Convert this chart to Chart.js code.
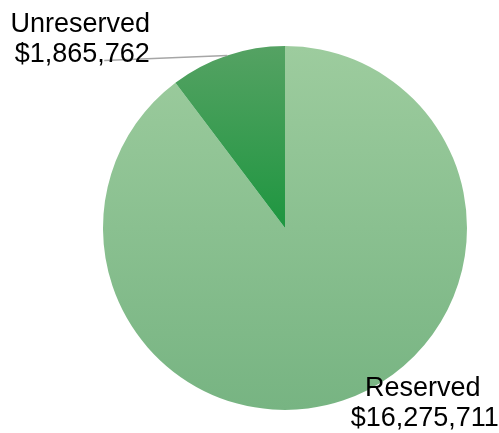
<!DOCTYPE html>
<html>
<head>
<meta charset="utf-8">
<script src="https://cdn.jsdelivr.net/npm/chart.js@4.4.0/dist/chart.umd.min.js"></script>
<style>
    html, body { margin: 0; padding: 0; background: #ffffff; }
    #wrap { width: 499px; height: 433px; }
</style>
</head>
<body>
<div id="wrap"><canvas id="pie"></canvas></div>
<script>
// Chart data
const categories = ['Reserved', 'Unreserved'];
const amounts = [16275711, 1865762];
const valueLabels = ['$16,275,711', '$1,865,762'];

// gradient stops per slice (top -> bottom of the slice itself)
const sliceColors = [
    ['#9dcc9e', '#77b482'],
    ['#55a263', '#1e9640']
];

// where each label sits relative to the slice's outer edge midpoint
const labelOffsets = [
    { dx: 80, dy: -5, leader: false },
    { dx: -147, dy: -23, leader: true }
];

const FONT = "27px 'Liberation Sans', Arial, sans-serif";

// vertical extent of a slice, worked out from the chart area and the data
// (element props are not set yet when the fill is resolved)
function sliceExtent(chart, index) {
    const area = chart.chartArea;
    const cy = (area.top + area.bottom) / 2;
    const r = Math.min(area.right - area.left, area.bottom - area.top) / 2;
    const total = amounts.reduce((a, b) => a + b, 0);
    let start = -Math.PI / 2;
    for (let k = 0; k < index; k++) start += amounts[k] / total * Math.PI * 2;
    const end = start + amounts[index] / total * Math.PI * 2;
    let minY = cy, maxY = cy;
    const steps = 90;
    for (let s = 0; s <= steps; s++) {
        const a = start + (end - start) * s / steps;
        const y = cy + Math.sin(a) * r;
        minY = Math.min(minY, y);
        maxY = Math.max(maxY, y);
    }
    return [minY, maxY];
}

function sliceFill(context) {
    const chart = context.chart;
    const stops = sliceColors[context.dataIndex];
    if (!chart.chartArea) return stops[0];
    const [top, bottom] = sliceExtent(chart, context.dataIndex);
    const g = chart.ctx.createLinearGradient(0, top, 0, bottom);
    g.addColorStop(0, stops[0]);
    g.addColorStop(1, stops[1]);
    return g;
}

const sliceLabels = {
    id: 'sliceLabels',
    afterDatasetsDraw(chart) {
        const ctx = chart.ctx;
        const meta = chart.getDatasetMeta(0);
        ctx.save();
        ctx.font = FONT;
        ctx.fillStyle = '#000000';
        ctx.textAlign = 'center';
        ctx.textBaseline = 'alphabetic';
        meta.data.forEach((arc, i) => {
            const mid = (arc.startAngle + arc.endAngle) / 2;
            const ex = arc.x + Math.cos(mid) * arc.outerRadius;
            const ey = arc.y + Math.sin(mid) * arc.outerRadius;
            const off = labelOffsets[i];
            const lx = ex + off.dx;
            const ly = ey + off.dy;
            if (off.leader) {
                ctx.strokeStyle = '#a6a6a6';
                ctx.lineWidth = 1.5;
                ctx.beginPath();
                ctx.moveTo(ex, ey);
                ctx.lineTo(lx + 24, ly + 28);
                ctx.stroke();
            }
            ctx.fillText(categories[i], lx, ly);
            ctx.fillText(valueLabels[i], lx + 2, ly + 30);
        });
        ctx.restore();
    }
};

new Chart(document.getElementById('pie'), {
    type: 'pie',
    data: {
        labels: categories,
        datasets: [{
            data: amounts,
            backgroundColor: sliceFill,
            borderWidth: 0
        }]
    },
    options: {
        responsive: true,
        maintainAspectRatio: false,
        animation: false,
        layout: {
            padding: { left: 103, right: 32, top: 46, bottom: 23 }
        },
        plugins: {
            legend: { display: false },
            tooltip: { enabled: false }
        }
    },
    plugins: [sliceLabels]
});
</script>
</body>
</html>
